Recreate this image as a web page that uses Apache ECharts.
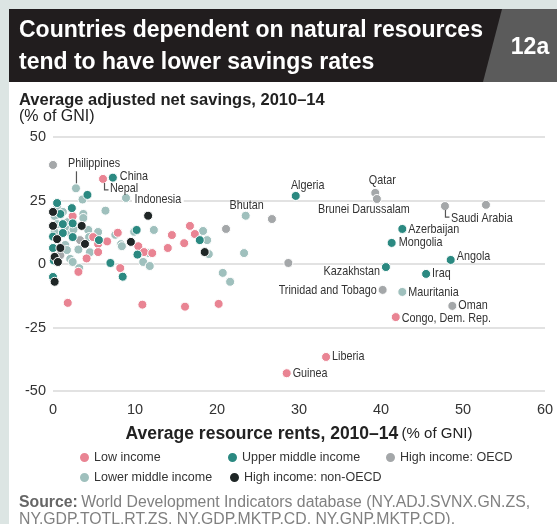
<!DOCTYPE html>
<html><head><meta charset="utf-8">
<script src="https://cdn.jsdelivr.net/npm/echarts@6/dist/echarts.min.js"></script>
<style>html,body{margin:0;padding:0;background:#fff}#c{width:557px;height:524px}</style>
</head><body><div id="c"></div>
<script>
// ---- data: [resource rents %GNI, adjusted net savings %GNI, optional label] ----
const lowIncome = [
  [6.1, 33.5, 'Nepal'], [2.4, 18.8], [4.9, 10.6], [5.5, 7.9], [5.5, 4.7], [4.1, 2.2],
  [3.1, -3.1], [1.8, -15.3], [7.9, 12.3], [6.6, 8.9], [10.4, 7.0], [11.1, 4.7],
  [12.1, 4.3], [8.2, -1.6], [14.0, 6.3], [14.5, 11.4], [16.0, 8.2], [16.7, 15.0],
  [17.3, 11.8], [10.9, -16.0], [16.1, -16.8], [20.2, -15.7],
  [41.8, -20.9, 'Congo, Dem. Rep.'], [33.3, -36.6, 'Liberia'], [28.5, -43.0, 'Guinea']
];
const upperMiddle = [
  [7.3, 34.0, 'China'], [4.2, 27.2], [0.5, 24.0], [2.3, 22.0], [0.9, 19.7], [1.2, 15.7],
  [2.4, 16.0], [1.2, 12.2], [2.4, 10.6], [0.0, 10.8], [5.6, 9.4], [0.0, 6.3],
  [0.2, 2.4], [0.1, 1.4], [0.0, -5.1], [10.2, 13.4], [10.3, 3.7], [7.0, 0.4],
  [8.5, -5.0], [17.9, 9.4],
  [29.6, 26.8, 'Algeria'], [42.6, 13.8, 'Azerbaijan'], [41.3, 8.3, 'Mongolia'],
  [48.5, 1.6, 'Angola'], [40.6, -1.2, 'Kazakhstan'], [45.5, -3.9, 'Iraq']
];
const lowerMiddle = [
  [2.8, 29.8, 'Philippines'], [3.6, 25.4], [8.9, 26.0, 'Indonesia'], [0.5, 22.0],
  [1.2, 20.5], [3.7, 19.7], [3.7, 18.1], [0.2, 18.9], [1.8, 16.5], [0.5, 15.7],
  [4.3, 13.4], [0.2, 12.6], [1.8, 13.4], [2.2, 12.0], [2.5, 13.6], [4.4, 10.6],
  [5.5, 12.6], [1.5, 7.5], [1.7, 5.5], [3.1, 5.7], [4.5, 4.6], [2.1, 2.0],
  [2.4, 0.8], [3.2, -1.6], [6.4, 21.0], [9.9, 12.7], [12.3, 13.4], [7.6, 11.5],
  [8.3, 7.8], [8.4, 7.0], [11.0, 0.8], [11.8, -0.8], [11.7, 4.3], [18.3, 13.0],
  [18.8, 9.4], [19.0, 3.9], [23.3, 4.3], [23.5, 19.0, 'Bhutan'], [20.7, -3.5],
  [21.6, -7.0], [42.6, -11.0, 'Mauritania']
];
const highOECD = [
  [0.0, 39.0], [3.3, 9.4], [0.9, 3.5], [21.1, 13.8], [26.7, 17.7], [28.7, 0.4],
  [39.3, 28.0, 'Qatar'], [39.5, 25.6, 'Brunei Darussalam'], [47.8, 22.8, 'Saudi Arabia'],
  [52.8, 23.3], [40.2, -10.2, 'Trinidad and Tobago'], [48.7, -16.5, 'Oman']
];
const highNonOECD = [
  [0.0, 20.5], [0.0, 15.0], [3.5, 15.0], [0.5, 9.8], [0.9, 6.3], [3.9, 7.9],
  [0.2, 2.8], [0.6, 0.8], [0.2, -7.0], [9.5, 8.7], [11.6, 19.0], [18.5, 4.7]
];
const groupNames = ['Low income', 'Upper middle income', 'High income: OECD',
                    'Lower middle income', 'High income: non-OECD'];
const yTicks = [-50, -25, 0, 25, 50];
const xTicks = [0, 10, 20, 30, 40, 50, 60];

// ---- styles ----
const colors = {
  'Low income': '#e98493', 'Upper middle income': '#2b8981', 'High income: OECD': '#a4a7a9',
  'Lower middle income': '#9fc0bd', 'High income: non-OECD': '#1f2626'
};
const groups = {
  'Low income': lowIncome, 'Upper middle income': upperMiddle, 'High income: OECD': highOECD,
  'Lower middle income': lowerMiddle, 'High income: non-OECD': highNonOECD
};
const SANS = '"Liberation Sans", Arial, sans-serif';
const labelOffsets = {
  'Philippines': {dx: -8, dy: -25, align: 'left', line: [[0, -17], [0, -5]]},
  'China': {dx: 7, dy: -1, align: 'left'},
  'Nepal': {dx: 7, dy: 10, align: 'left', line: [[1, 4], [1, 11], [5, 11]]},
  'Indonesia': {dx: 6, dy: 1, align: 'left', bg: true},
  'Bhutan': {dx: 1, dy: -10, align: 'center'},
  'Algeria': {dx: 12, dy: -11, align: 'center'},
  'Qatar': {dx: 7, dy: -12, align: 'center'},
  'Brunei Darussalam': {dx: -13, dy: 10, align: 'center'},
  'Saudi Arabia': {dx: 6, dy: 12, align: 'left', line: [[0, 4], [0, 11], [4, 11]]},
  'Azerbaijan': {dx: 6, dy: 0, align: 'left'},
  'Mongolia': {dx: 7, dy: 0, align: 'left'},
  'Angola': {dx: 6, dy: -4, align: 'left'},
  'Kazakhstan': {dx: -6, dy: 4, align: 'right'},
  'Iraq': {dx: 6, dy: 0, align: 'left'},
  'Trinidad and Tobago': {dx: -6, dy: 1, align: 'right'},
  'Mauritania': {dx: 6, dy: 0, align: 'left'},
  'Oman': {dx: 6, dy: 0, align: 'left'},
  'Congo, Dem. Rep.': {dx: 6, dy: 1, align: 'left'},
  'Liberia': {dx: 6, dy: -1, align: 'left'},
  'Guinea': {dx: 6, dy: 0, align: 'left'}
};

const labeled = [];
groupNames.forEach(g => groups[g].forEach(d => { if (d[2]) labeled.push(d); }));

const drawOrder = ['High income: OECD', 'Lower middle income', 'Low income',
                   'Upper middle income', 'High income: non-OECD'];
const series = drawOrder.map(g => ({
  name: g, type: 'scatter', symbolSize: 9,
  data: groups[g].map(d => [d[0], d[1]]),
  itemStyle: {color: colors[g], borderColor: '#fff', borderWidth: 1, opacity: 1},
  emphasis: {disabled: true}, z: 3
}));
series.push({
  type: 'custom', silent: true, z: 5,
  data: labeled.map(d => [d[0], d[1]]),
  encode: {x: 0, y: 1},
  renderItem: function (params, api) {
    const name = labeled[params.dataIndex][2];
    const o = labelOffsets[name];
    const p = api.coord([api.value(0), api.value(1)]);
    const children = [{
      type: 'text', x: p[0] + o.dx, y: p[1] + o.dy, scaleX: 0.83, scaleY: 1,
      style: {
        text: name, fill: '#333', font: '13px ' + SANS, textAlign: o.align,
        textVerticalAlign: 'middle',
        backgroundColor: o.bg ? '#fff' : null, padding: o.bg ? [0, 3] : 0
      }
    }];
    if (o.line) {
      children.push({
        type: 'polyline',
        shape: {points: o.line.map(q => [p[0] + q[0] + 0.5, p[1] + q[1]])},
        style: {stroke: '#555', lineWidth: 1.2, fill: null}
      });
    }
    return {type: 'group', children: children};
  }
});

function legend(name, left, top) {
  return {
    data: [name], left: left, top: top, icon: 'circle', itemWidth: 11, itemHeight: 11,
    itemGap: 0, selectedMode: false, padding: 0,
    textStyle: {fontFamily: SANS, fontSize: 12.5, color: '#333', padding: [0, 0, 0, -1]}
  };
}

const chart = echarts.init(document.getElementById('c'), null, {renderer: 'canvas'});
chart.setOption({
  backgroundColor: '#fff',
  animation: false,
  grid: {left: 53, right: 12, top: 137, bottom: 133, containLabel: false},
  xAxis: {
    type: 'value', min: xTicks[0], max: xTicks[xTicks.length - 1], interval: 10,
    axisLine: {show: false}, axisTick: {show: false}, splitLine: {show: false},
    axisLabel: {fontFamily: SANS, fontSize: 14.5, color: '#333', margin: 11},
    name: '{b|Average resource rents, 2010–14} {r|(% of GNI)}',
    nameLocation: 'middle', nameGap: 34,
    nameTextStyle: {
      rich: {
        b: {fontFamily: SANS, fontSize: 17.5, fontWeight: 'bold', color: '#222'},
        r: {fontFamily: SANS, fontSize: 15, color: '#222'}
      }
    }
  },
  yAxis: {
    type: 'value', min: yTicks[0], max: yTicks[yTicks.length - 1], interval: 25,
    axisLine: {show: false}, axisTick: {show: false},
    splitLine: {lineStyle: {color: '#d9d9d9', width: 1.5}},
    axisLabel: {fontFamily: SANS, fontSize: 14.5, color: '#333', margin: 7}
  },
  legend: [
    legend(groupNames[0], 78, 451), legend(groupNames[1], 226, 451), legend(groupNames[2], 384, 451),
    legend(groupNames[3], 78, 471), legend(groupNames[4], 228, 471)
  ],
  series: series,
  graphic: [
    {type: 'rect', shape: {x: 0, y: 0, width: 557, height: 9}, style: {fill: '#dce5e3'}, z: 100},
    {type: 'rect', shape: {x: 0, y: 0, width: 9, height: 524}, style: {fill: '#dce5e3'}, z: 100},
    {type: 'rect', shape: {x: 9, y: 9, width: 548, height: 73}, style: {fill: '#211d1e'}, z: 100},
    {type: 'polygon', shape: {points: [[502, 9], [557, 9], [557, 82], [483, 82]]}, style: {fill: '#5b5b5b'}, z: 101},
    {type: 'text', x: 19, y: 31, z: 102, style: {text: 'Countries dependent on natural resources', fill: '#fff',
      font: 'bold 23px ' + SANS, textVerticalAlign: 'middle'}},
    {type: 'text', x: 19, y: 63, z: 102, style: {text: 'tend to have lower savings rates', fill: '#fff',
      font: 'bold 23px ' + SANS, textVerticalAlign: 'middle'}},
    {type: 'text', x: 530, y: 48, z: 102, style: {text: '12a', fill: '#fff',
      font: 'bold 23px ' + SANS, textAlign: 'center', textVerticalAlign: 'middle'}},
    {type: 'text', x: 19, y: 100, z: 102, style: {text: 'Average adjusted net savings, 2010–14', fill: '#222',
      font: 'bold 16.5px ' + SANS, textVerticalAlign: 'middle'}},
    {type: 'text', x: 19, y: 117, z: 102, style: {text: '(% of GNI)', fill: '#222',
      font: '16px ' + SANS, textVerticalAlign: 'middle'}},
    {type: 'text', x: 19, y: 503, z: 102, style: {
      text: '{b|Source:} {r|World Development Indicators database (NY.ADJ.SVNX.GN.ZS,}',
      textVerticalAlign: 'middle',
      rich: {b: {font: 'bold 15.8px ' + SANS, fill: '#666'}, r: {font: '15.8px ' + SANS, fill: '#808080'}}}},
    {type: 'text', x: 19, y: 520, z: 102, style: {text: 'NY.GDP.TOTL.RT.ZS, NY.GDP.MKTP.CD, NY.GNP.MKTP.CD).',
      fill: '#808080', font: '15.8px ' + SANS, textVerticalAlign: 'middle'}}
  ]
});
</script></body></html>
